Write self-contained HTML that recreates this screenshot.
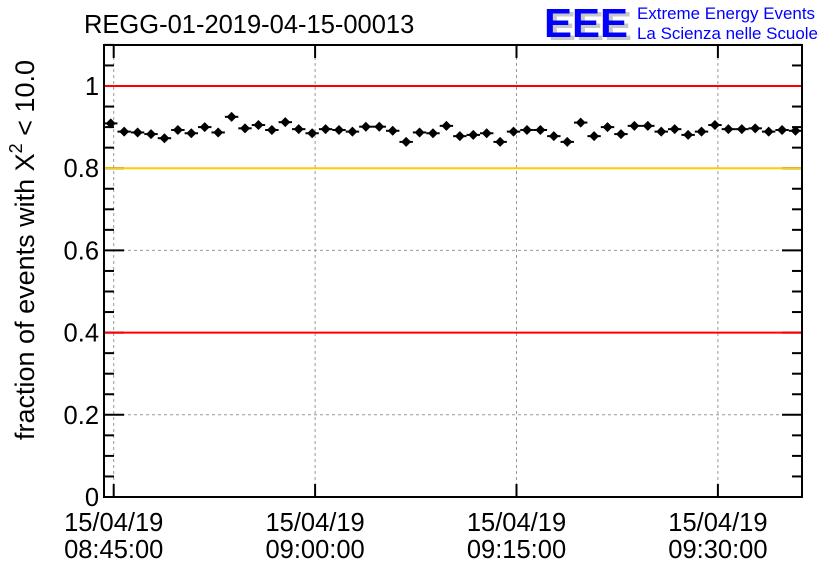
<!DOCTYPE html>
<html><head><meta charset="utf-8"><style>
html,body{margin:0;padding:0;background:#fff;}
svg{display:block;font-family:"Liberation Sans",sans-serif;}
</style></head><body>
<svg id="c" width="836" height="572" viewBox="0 0 836 572">
<text x="84" y="33" font-size="25.5">REGG-01-2019-04-15-00013</text>
<g>
<text x="548" y="40" font-size="41" font-weight="bold" fill="#c8c8c8" textLength="84" lengthAdjust="spacingAndGlyphs">EEE</text>
<text x="544" y="37" font-size="41" font-weight="bold" fill="#0000ff" textLength="84" lengthAdjust="spacingAndGlyphs">EEE</text>
<text x="637" y="19" font-size="17" fill="#0000ff" textLength="178" lengthAdjust="spacingAndGlyphs">Extreme Energy Events</text>
<text x="637" y="39" font-size="17" fill="#0000ff" textLength="181" lengthAdjust="spacingAndGlyphs">La Scienza nelle Scuole</text>
</g>
<text transform="translate(34,250) rotate(-90)" font-size="27" text-anchor="middle">fraction of events with Χ<tspan dy="-12" font-size="18">2</tspan><tspan dy="12"> &lt; 10.0</tspan></text>
<g id="grid"></g><g id="marks"></g><g id="axes"></g><g id="lines"></g>
</svg>
<script>
const minutesFrom0845 = [];
for (let i = 0; i < 52; i++) minutesFrom0845.push(-0.22 + i);
const fractions = [0.909,0.889,0.887,0.883,0.873,0.893,0.885,0.900,0.887,0.925,0.897,0.905,0.893,0.912,0.895,0.885,0.895,0.893,0.889,0.901,0.901,0.891,0.864,0.887,0.885,0.903,0.878,
0.881,0.885,0.864,0.889,0.893,0.893,0.878,0.864,0.911,0.878,0.900,0.883,0.903,0.903,0.889,0.895,0.881,0.889,0.905,0.895,0.895,0.897,0.889,0.893,0.891];
const yTicks = [0,0.2,0.4,0.6,0.8,1];
const yTickLabels = ["0","0.2","0.4","0.6","0.8","1"];
const xTicks = [0,15,30,45];
const xTickLabels = [["15/04/19","08:45:00"],["15/04/19","09:00:00"],["15/04/19","09:15:00"],["15/04/19","09:30:00"]];
const refLines = [[1,"#ff0000"],[0.8,"#ffcc00"],[0.4,"#ff0000"]];

const L=104,R=802,T=45,B=497;
const X=m=>113.7+m*(201.4/15);
const Y=v=>B-v*411;
const NS="http://www.w3.org/2000/svg";
function mk(p,tag,a){const e=document.createElementNS(NS,tag);for(const k in a)e.setAttribute(k,a[k]);document.getElementById(p).appendChild(e);return e;}

xTicks.forEach(t=>{
 const e=mk('grid','line',{x1:X(t),x2:X(t),y1:T,y2:B,stroke:'#999','stroke-dasharray':'3,3','stroke-width':1});
 
 
});
yTicks.forEach(v=>{
 const e=mk('grid','line',{x1:L,x2:R,y1:Y(v),y2:Y(v),stroke:'#999','stroke-dasharray':'3,3','stroke-width':1});
 
 
});
refLines.forEach(r=>{
 const e=mk('lines','line',{x1:L+1,x2:R-1,y1:Y(r[0]),y2:Y(r[0]),stroke:r[1],'stroke-width':2});
 
 
});
fractions.forEach((v,i)=>{
 const x=X(minutesFrom0845[i]),y=Y(v);
 const g=mk('marks','g',{});
 
 
 const mkc=(t,a)=>{const e=document.createElementNS(NS,t);for(const k in a)e.setAttribute(k,a[k]);g.appendChild(e);};
 mkc('line',{x1:x-6.7,x2:x+6.7,y1:y,y2:y,stroke:'#000','stroke-width':2});
 mkc('line',{x1:x,x2:x,y1:y-4,y2:y+4,stroke:'#000','stroke-width':2});
 mkc('path',{d:`M${x} ${y-5}L${x+5} ${y}L${x} ${y+5}L${x-5} ${y}Z`,fill:'#000'});
});
mk('axes','rect',{x:L,y:T,width:R-L,height:B-T,fill:'none',stroke:'#000','stroke-width':2});
for(let k=0;k<=22;k++){
 const v=k*0.05,y=Y(v),len=(k%4===0)?20:10;
 mk('axes','line',{x1:L,x2:L+len,y1:y,y2:y,stroke:'#000','stroke-width':2});
 mk('axes','line',{x1:R,x2:R-len,y1:y,y2:y,stroke:'#000','stroke-width':2});
}
yTicks.forEach((v,i)=>{
 const e=mk('axes','text',{x:L-5,y:Y(v)+9,'font-size':25.5,'text-anchor':'end'});
 e.textContent=yTickLabels[i];
 
 
});
xTicks.forEach((t,i)=>{
 const x=X(t);
 mk('axes','line',{x1:x,x2:x,y1:B,y2:B-13,stroke:'#000','stroke-width':2});
 mk('axes','line',{x1:x,x2:x,y1:T,y2:T+13,stroke:'#000','stroke-width':2});
 const e=mk('axes','text',{x:x,y:531,'font-size':25.5,'text-anchor':'middle'});
 e.textContent=xTickLabels[i][0];
 
 
 const f=mk('axes','text',{x:x,y:558,'font-size':25.5,'text-anchor':'middle'});
 f.textContent=xTickLabels[i][1];
 
 
});
</script>
</body></html>
